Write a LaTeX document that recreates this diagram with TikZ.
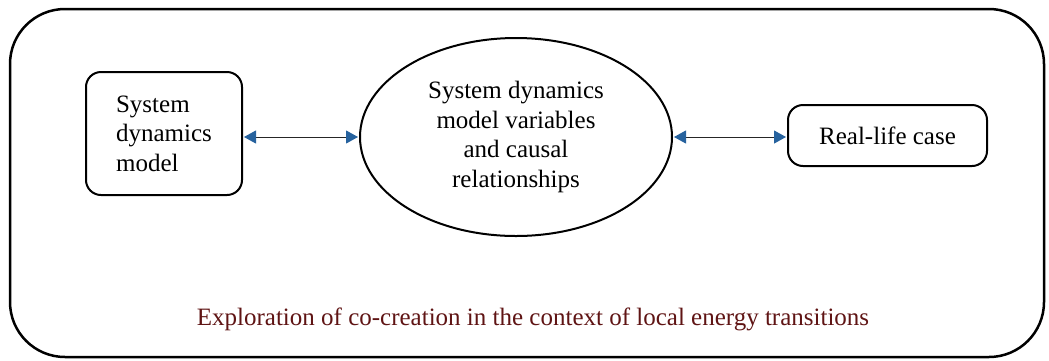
\documentclass[tikz,border=0pt]{standalone}
\usepackage{fontspec}
\setmainfont{Liberation Serif}
\usetikzlibrary{arrows.meta,shapes.geometric}
\definecolor{captionred}{RGB}{95,20,20}
\definecolor{tipblue}{RGB}{38,98,158}
\tikzset{
  txt/.style={font=\fontsize{25}{29.5}\selectfont},
  roundbox/.style={draw, line width=2pt, rounded corners=15pt, txt, inner sep=0pt},
  biarrow/.style={draw=black!85, line width=1pt, {Triangle[length=12pt,width=13pt,color=tipblue,fill=tipblue]}-{Triangle[length=12pt,width=13pt,color=tipblue,fill=tipblue]}, shorten <=1pt, shorten >=1pt}
}
\begin{document}
\begin{tikzpicture}[x=1pt,y=-1pt]
\useasboundingbox (0,0) rectangle (1049,360);
\draw[line width=2.5pt, rounded corners=55pt] (10,9) rectangle (1044,357);
\node[roundbox, minimum width=156pt, minimum height=123pt, align=left] (sdm) at (164,133.5) {System\\dynamics\\model};
\node[draw, ellipse, line width=2pt, minimum width=312pt, minimum height=198pt, inner sep=0pt, txt, align=center] (sdv) at (516,137) {System dynamics\\model variables\\and causal\\relationships};
\node[roundbox, minimum width=199pt, minimum height=61pt] (rlc) at (887.5,135.5) {Real-life case};
\draw[biarrow] (sdm.east |- sdv.west) -- (sdv.west);
\draw[biarrow] (sdv.east) -- (rlc.west |- sdv.east);
\node[txt, text=captionred, anchor=base] (cap) at (533,325) {Exploration of co-creation in the context of local energy transitions};
\end{tikzpicture}
\end{document}
